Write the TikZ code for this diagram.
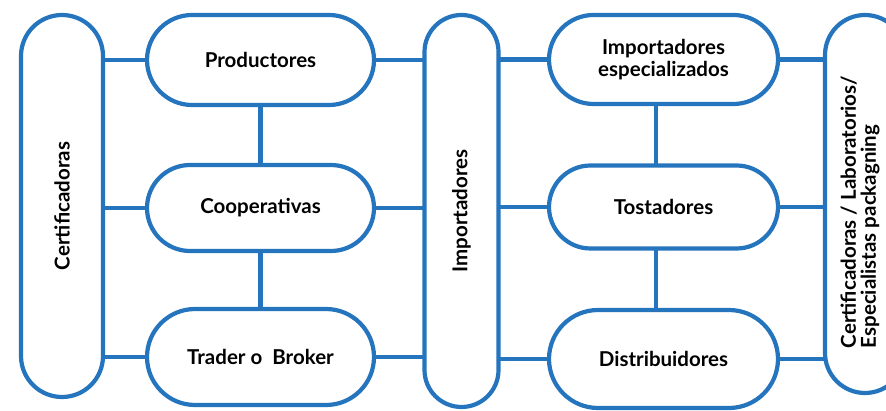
\documentclass[tikz,border=0pt]{standalone}
\usepackage{fontspec}
\setmainfont{Lato}
\pgfdeclarelayer{bg}
\pgfsetlayers{bg,main}
\definecolor{flowblue}{RGB}{37,116,190}
\begin{document}
\begin{tikzpicture}[x=1pt,y=-1pt,
  capsule/.style={draw=flowblue, line width=4.2pt, fill=white, inner sep=0pt, align=center,
     font=\fontsize{20.5}{21.5}\selectfont\bfseries},
  conn/.style={draw=flowblue, line width=4.2pt}]
\useasboundingbox (0,0) rectangle (886,411);
% pills
\node[capsule, rotate=90, minimum width=382pt, minimum height=82pt, rounded corners=41pt] (lp) at (62,206) {Certificadoras};
\node[capsule, rotate=90, minimum width=392pt, minimum height=74pt, rounded corners=37pt] (mp) at (461.5,211) {Importadores};
\node[capsule, rotate=90, minimum width=378pt, minimum height=80pt, rounded corners=40pt] (rp) at (865,204) {};
\node[rotate=90, align=left, inner sep=0pt, font=\fontsize{20.5}{20}\selectfont\bfseries] (rpt) at (860,212) {Certificadoras / Laboratorios/\\Especialistas packagning};
% left column
\node[capsule, minimum width=227pt, minimum height=90pt, rounded corners=45pt] (prod) at (260.5,60) {Productores};
\node[capsule, minimum width=227pt, minimum height=86pt, rounded corners=43pt] (coop) at (260.5,208) {Cooperativas};
\node[capsule, minimum width=227pt, minimum height=96pt, rounded corners=48pt] (trad) at (260.5,357) {Trader o\ \ Broker};
% right column
\node[capsule, minimum width=229pt, minimum height=89pt, rounded corners=44.5pt] (esp) at (663.5,59.5) {Importadores\\especializados};
\node[capsule, minimum width=229pt, minimum height=83pt, rounded corners=41.5pt] (tost) at (663.5,207) {Tostadores};
\node[capsule, minimum width=229pt, minimum height=98pt, rounded corners=49pt] (dist) at (663.5,359) {Distribuidores};
\begin{pgfonlayer}{bg}
\draw[conn] (prod.center) -- (prod.center -| lp.center);
\draw[conn] (coop.center) -- (coop.center -| lp.center);
\draw[conn] (trad.center) -- (trad.center -| lp.center);
\draw[conn] (prod.center) -- (prod.center -| mp.center);
\draw[conn] (coop.center) -- (coop.center -| mp.center);
\draw[conn] (trad.center) -- (trad.center -| mp.center);
\draw[conn] (esp.center) -- (esp.center -| mp.center);
\draw[conn] (tost.center) -- (tost.center -| mp.center);
\draw[conn] (dist.center) -- (dist.center -| mp.center);
\draw[conn] (esp.center) -- (esp.center -| rp.center);
\draw[conn] (tost.center) -- (tost.center -| rp.center);
\draw[conn] (dist.center) -- (dist.center -| rp.center);
\draw[conn] (prod.center) -- (coop.center);
\draw[conn] (coop.center) -- (trad.center);
\draw[conn] ([xshift=-7.5pt]esp.center) -- ([xshift=-7.5pt]tost.center);
\draw[conn] ([xshift=-7.5pt]tost.center) -- ([xshift=-7.5pt]dist.center);
\end{pgfonlayer}
\end{tikzpicture}
\end{document}
